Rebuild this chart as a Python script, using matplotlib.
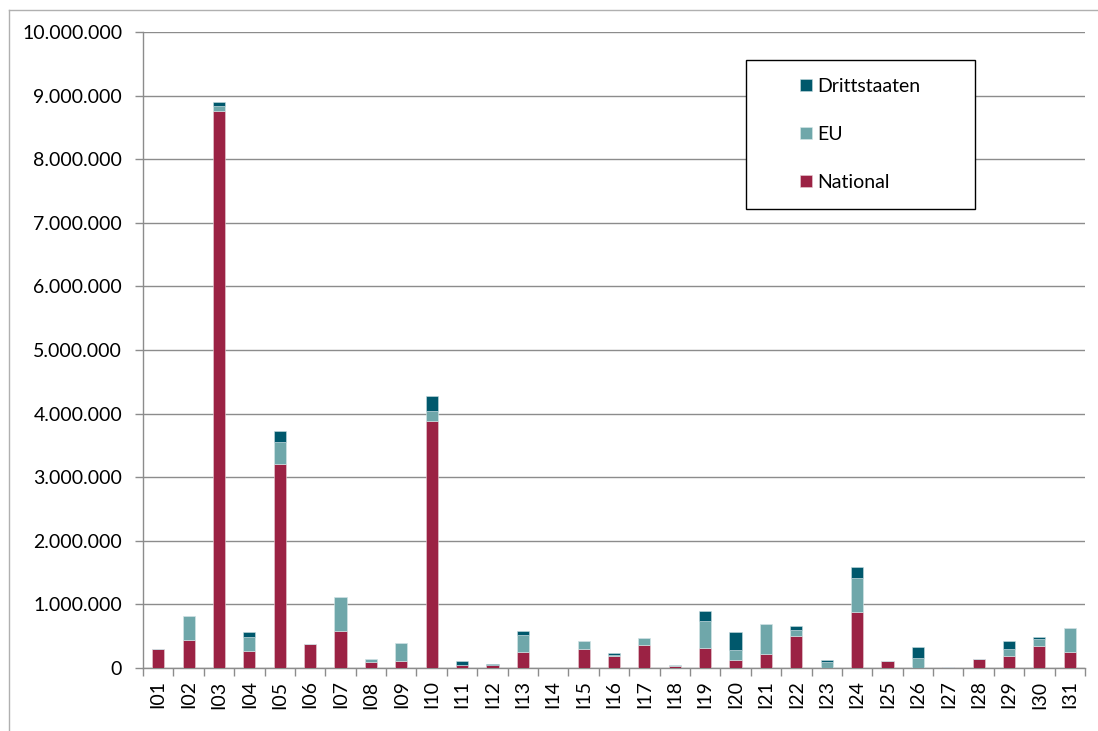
import numpy as np
import matplotlib.pyplot as plt
from matplotlib.patches import Rectangle
from matplotlib.lines import Line2D
from matplotlib.ticker import FuncFormatter

plt.rcParams['font.family'] = ['Lato', 'DejaVu Sans']

categories = ['I%02d' % i for i in range(1, 32)]

national = [0.30, 0.447, 8.763, 0.27, 3.21, 0.38, 0.584, 0.095, 0.105, 3.888,
            0.042, 0.042, 0.253, 0.0, 0.295, 0.195, 0.363, 0.026, 0.316, 0.126,
            0.226, 0.51, 0.005, 0.884, 0.116, 0.0, 0.021, 0.137, 0.19, 0.342, 0.253]
eu = [0.0, 0.363, 0.073, 0.22, 0.34, 0.0, 0.532, 0.042, 0.295, 0.152,
      0.005, 0.006, 0.273, 0.0, 0.131, 0.007, 0.116, 0.016, 0.426, 0.163,
      0.469, 0.09, 0.084, 0.532, 0.0, 0.153, 0.0, 0.0, 0.11, 0.116, 0.373]
dritt = [0.0, 0.0, 0.059, 0.073, 0.17, 0.0, 0.0, 0.0, 0.0, 0.237,
         0.058, 0.02, 0.048, 0.0, 0.0, 0.04, 0.0, 0.0, 0.147, 0.274,
         0.0, 0.053, 0.032, 0.173, 0.0, 0.184, 0.0, 0.0, 0.121, 0.026, 0.0]

national = np.array(national) * 1e6
eu = np.array(eu) * 1e6
dritt = np.array(dritt) * 1e6

c_nat = '#9B2244'
c_eu = '#6FA7AA'
c_dr = '#00586C'

W, H = 1098, 731
fig = plt.figure(figsize=(W / 100, H / 100), dpi=100, facecolor='white')
ax = fig.add_axes([143 / W, (H - 668) / H, (1085 - 143) / W, (668 - 32) / H])

x = np.arange(len(categories))
w = 0.4
ax.bar(x, national, w, color=c_nat, edgecolor='#e8d0d6', linewidth=0.4, label='National', zorder=3)
ax.bar(x, eu, w, bottom=national, color=c_eu, edgecolor='#d8e8e8', linewidth=0.4, label='EU', zorder=3)
ax.bar(x, dritt, w, bottom=national + eu, color=c_dr, edgecolor='#c8dce0', linewidth=0.4, label='Drittstaaten', zorder=3)

ax.set_xlim(-0.5, len(categories) - 0.5)
ax.set_ylim(0, 1e7)
ax.set_yticks(np.arange(0, 1e7 + 1, 1e6))
ax.yaxis.set_major_formatter(FuncFormatter(lambda v, p: '{:,.0f}'.format(v).replace(',', '.')))
ax.grid(axis='y', color='#8c8c8c', linewidth=1.0, zorder=0)
ax.set_axisbelow(True)

ax.set_xticks(x)
ax.set_xticklabels(categories, rotation=90)
ax.set_xticks(np.arange(-0.5, len(categories), 1), minor=True)
ax.tick_params(axis='x', which='major', length=0, pad=9, labelsize=14)
ax.tick_params(axis='x', which='minor', length=6, color='#8c8c8c', width=1)
ax.tick_params(axis='y', length=6, color='#8c8c8c', width=1, labelsize=14, pad=9)

for s in ['top', 'right']:
    ax.spines[s].set_visible(False)
for s in ['left', 'bottom']:
    ax.spines[s].set_color('#8c8c8c')
    ax.spines[s].set_linewidth(1)

# legend box
bx0, by0, bx1, by1 = 746, 60, 975, 209
fig.patches.append(Rectangle((bx0 / W, 1 - by1 / H), (bx1 - bx0) / W, (by1 - by0) / H,
                             transform=fig.transFigure, facecolor='white',
                             edgecolor='black', linewidth=1, zorder=4))
handles, labels = ax.get_legend_handles_labels()
leg = fig.legend(handles[::-1], labels[::-1], loc='center',
                 bbox_to_anchor=((bx0 + bx1) / 2 / W, 1 - (by0 + by1) / 2 / H),
                 frameon=False, fontsize=14, labelspacing=1.6,
                 handlelength=0.6, handleheight=0.6, handletextpad=0.3)
leg.set_zorder(5)

# outer chart border (clipped at right and bottom)
fig.add_artist(Line2D([9 / W, 9 / W], [1 - 10 / H, 0], color='#b0b0b0', linewidth=1))
fig.add_artist(Line2D([9 / W, 1], [1 - 10 / H, 1 - 10 / H], color='#b0b0b0', linewidth=1))

fig.savefig('out.png', dpi=100)
